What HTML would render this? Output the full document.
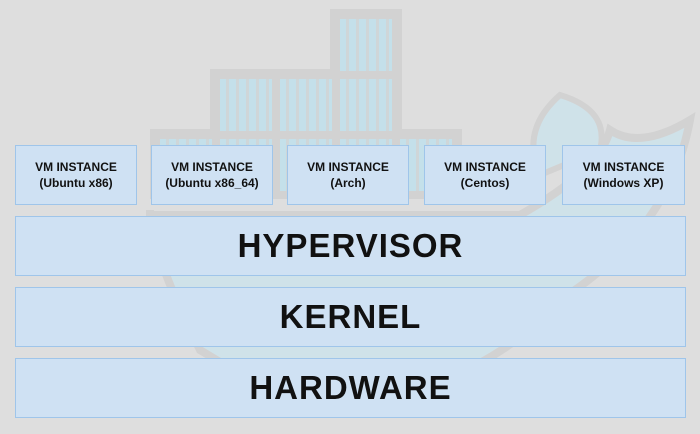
<!DOCTYPE html>
<html><head><style>
body{margin:0;width:700px;height:434px;background:#dedede;position:relative;overflow:hidden;font-family:"Liberation Sans",sans-serif}
.b{position:absolute;background:#cfe1f3;border:1px solid #9fc5ea;box-sizing:border-box;display:flex;align-items:center;justify-content:center;text-align:center;color:#111;font-weight:bold}
.vm{top:145px;height:60px;width:122px;font-size:12px;line-height:16px}
.big{left:15px;width:671px;height:60px;font-size:33px;letter-spacing:1px}
</style></head><body>
<svg width="700" height="434" style="position:absolute;left:0;top:0">
<defs><pattern id="s" width="10" height="52" patternUnits="userSpaceOnUse"><rect width="10" height="52" fill="#c4e0ea"/><rect x="6" width="3" height="52" fill="#cfd6d8"/></pattern></defs>
<path d="M200 350 Q150 250 150 210 L150 215 L520 215 Q600 170 610 130 Q640 150 690 120 Q670 230 560 300 Q470 400 300 410 Z" fill="#cfe2e9" stroke="#d2d2d2" stroke-width="8"/>
<path d="M560 95 Q520 130 540 175 L600 150 Q610 110 560 95Z" fill="#cfe2e9" stroke="#d2d2d2" stroke-width="6"/>
<rect x="330" y="9" width="72" height="120" fill="#d2d2d2"/>
<rect x="210" y="69" width="192" height="80" fill="#d2d2d2"/>
<rect x="150" y="129" width="312" height="70" fill="#d2d2d2"/>
<g fill="url(#s)">
<rect x="340" y="19" width="52" height="52"/>
<rect x="220" y="79" width="52" height="52"/><rect x="280" y="79" width="52" height="52"/><rect x="340" y="79" width="52" height="52"/>
<rect x="160" y="139" width="52" height="52"/><rect x="220" y="139" width="52" height="52"/><rect x="280" y="139" width="52" height="52"/><rect x="340" y="139" width="52" height="52"/><rect x="400" y="139" width="52" height="52"/>
</g>
</svg>
<div class="b vm" style="left:15px">VM INSTANCE<br>(Ubuntu x86)</div>
<div class="b vm" style="left:151px">VM INSTANCE<br>(Ubuntu x86_64)</div>
<div class="b vm" style="left:287px">VM INSTANCE<br>(Arch)</div>
<div class="b vm" style="left:424px">VM INSTANCE<br>(Centos)</div>
<div class="b vm" style="left:562px;width:123px">VM INSTANCE<br>(Windows XP)</div>
<div class="b big" style="top:216px">HYPERVISOR</div>
<div class="b big" style="top:287px">KERNEL</div>
<div class="b big" style="top:358px">HARDWARE</div>
</body></html>
